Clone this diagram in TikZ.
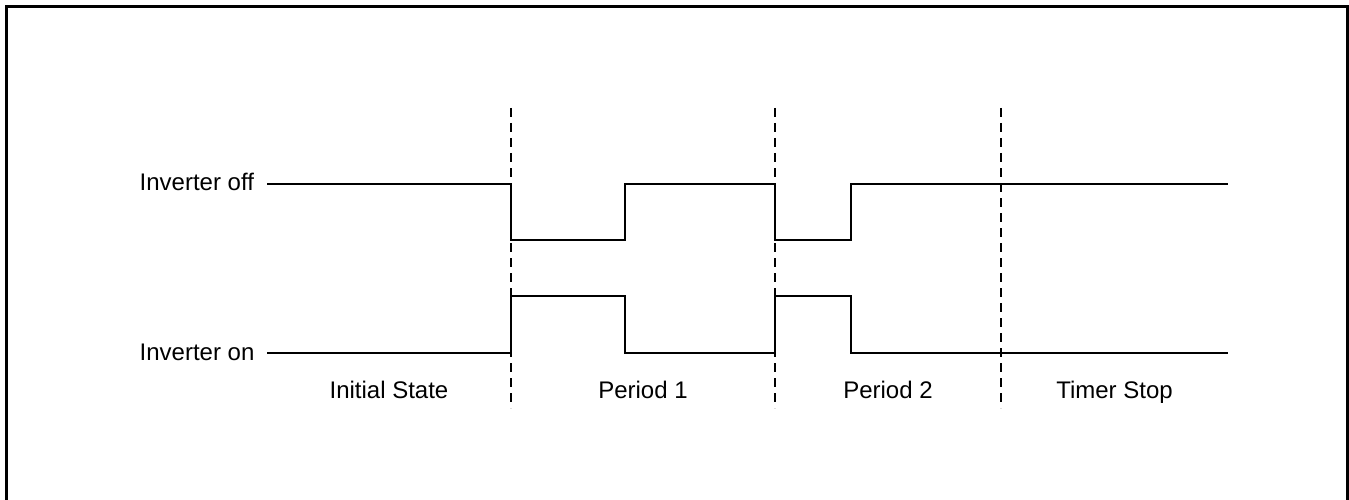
\documentclass[tikz,border=0pt]{standalone}
\usepackage{fontspec}
\setmainfont{Liberation Sans}
\begin{document}
\begin{tikzpicture}[x=1pt,y=-1pt,
  frame/.style={line width=3pt},
  sig/.style={line width=2pt, line join=miter},
  divider/.style={line width=1.6pt, dash pattern=on 9pt off 6pt},
  lbl/.style={font=\fontsize{24}{28}\selectfont, inner sep=0pt}]
\useasboundingbox (0,0) rectangle (1349,500);
\begin{scope}
\clip (0,0) rectangle (1349,500);
\draw[frame] (6.5,520) -- (6.5,7) -- (1347,7) -- (1347,520);
\end{scope}
% labels
\node[lbl, anchor=base west] (off) at (139.5,190.5) {Inverter off};
\node[lbl, anchor=base west] (on) at (139.5,360.5) {Inverter on};
\node[lbl, anchor=base] (p0) at (389,398) {Initial State};
\node[lbl, anchor=base] (p1) at (643,398) {Period 1};
\node[lbl, anchor=base] (p2) at (888,398) {Period 2};
\node[lbl, anchor=base] (p3) at (1114.5,398) {Timer Stop};
% dividers
\foreach \x/\n in {511/a,775/b,1001/c}{
  \coordinate (\n top) at (\x,108);
  \coordinate (\n bot) at (\x,408);
  \draw[divider] (\n top) -- (\n bot);
}
% waveforms
\coordinate (offS) at (267,184);
\coordinate (offE) at (1228,184);
\coordinate (onS) at (267,353);
\coordinate (onE) at (1228,353);
\draw[sig] (offS) -- (511,184) -- (511,240) -- (625,240) -- (625,184) -- (775,184) -- (775,240) -- (851,240) -- (851,184) -- (offE);
\draw[sig] (onS) -- (511,353) -- (511,296) -- (625,296) -- (625,353) -- (775,353) -- (775,296) -- (851,296) -- (851,353) -- (onE);
\end{tikzpicture}
\end{document}
